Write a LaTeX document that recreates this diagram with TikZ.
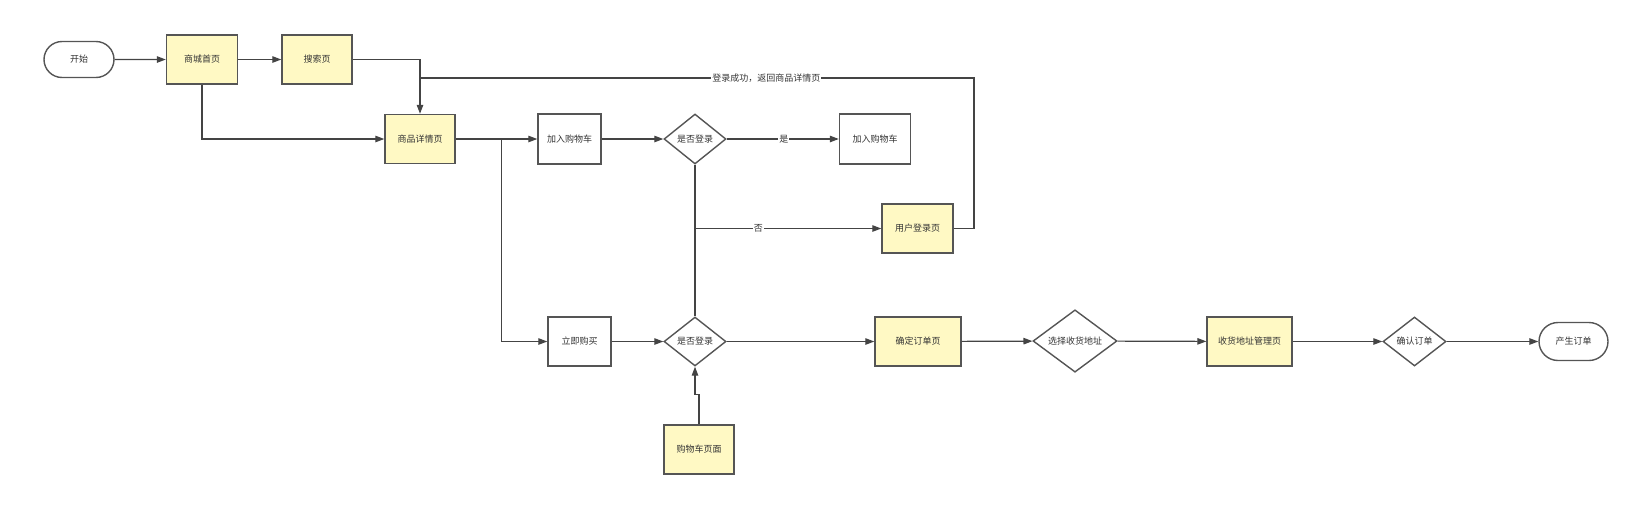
\documentclass[tikz,border=0pt]{standalone}
\usepackage{fontspec}
\setmainfont{Noto Sans CJK SC}
\usetikzlibrary{shapes.geometric,shapes.misc,arrows.meta}
\definecolor{boxfill}{HTML}{FFF9C4}
\definecolor{edge}{HTML}{555555}
\definecolor{wire}{HTML}{444444}
\definecolor{txt}{HTML}{333333}
\begin{document}
\begin{tikzpicture}[x=1pt,y=-1pt,
  every node/.style={font=\fontsize{9}{10}\selectfont, text=txt},
  base/.style={draw=edge, line width=1.4pt, inner sep=0pt},
  ybox/.style={base, rectangle, fill=boxfill, minimum width=71pt, minimum height=49pt},
  wbox/.style={base, rectangle, fill=white, minimum width=63pt, minimum height=50pt},
  dia/.style={base, diamond, fill=white, minimum width=62pt, minimum height=50pt},
  term/.style={base, rounded rectangle, fill=white, minimum width=70pt, minimum height=36pt},
  wire/.style={draw=wire, line width=1.2pt},
  arr/.style={wire, -{Triangle[length=9pt,width=6.5pt]}},
  lbl/.style={fill=white, inner sep=1pt}
]
\useasboundingbox (0,0) rectangle (1634,520);

\node[term] (start) at (79,59.5) {开始};
\node[ybox] (home) at (202,59.5) {商城首页};
\node[ybox, minimum width=70pt] (search) at (317,59.5) {搜索页};
\node[ybox, minimum width=70pt] (detail) at (420,139) {商品详情页};
\node[wbox] (cart1) at (569.5,139) {加入购物车};
\node[dia] (d1) at (695,139) {是否登录};
\node[wbox, minimum width=71pt] (cart2) at (875,139) {加入购物车};
\node[ybox] (login) at (917.5,228.5) {用户登录页};
\node[wbox, minimum height=49pt] (buy) at (579.5,341.5) {立即购买};
\node[dia, minimum height=49pt] (d2) at (695,341.5) {是否登录};
\node[ybox, minimum width=70pt] (cartpage) at (699,449.5) {购物车页面};
\node[ybox, minimum width=86pt] (confirm) at (918,341.5) {确定订单页};
\node[dia, minimum width=84pt, minimum height=55pt] (d3) at (1075,341) {选择收货地址};
\node[ybox, minimum width=85pt] (addr) at (1249.5,341.5) {收货地址管理页};
\node[dia, minimum width=63pt, minimum height=49pt] (d4) at (1414.5,341.5) {确认订单};
\node[term, minimum width=69pt, minimum height=38pt] (end) at (1573.5,341.5) {产生订单};

\coordinate (br) at (501.7,139);
\coordinate (r1) at (974,78);
\coordinate (j1) at (420,78);

\draw[arr] (start) -- (home);
\draw[arr] (home) -- (search);
\draw[arr] (search.east) -| (detail.north);
\draw[arr] (home.south) |- (detail.west);
\draw[wire, line width=1.8pt] (detail.east) -- (br);
\draw[arr] (br) -- (cart1.west);
\draw[arr] (br) |- (buy.west);
\draw[arr] (cart1) -- (d1);
\draw[arr] (d1) -- node[lbl, pos=0.51] {是} (cart2);
\draw[arr] (d1.south) |- node[lbl, pos=0.67] {否} (login.west);
\draw[wire] (d2.north) -- (d2.north |- login.west);
\draw[wire] (login.east) -| (r1) -- node[lbl, pos=0.375] {登录成功，返回商品详情页} (j1);
\draw[arr] (buy) -- (d2);
\draw[arr] (d2) -- (confirm);
\draw[arr] (cartpage.north) -- ++(0,-30) -| (d2.south);
\draw[arr] (confirm) -- (d3);
\draw[arr] (d3) -- (addr);
\draw[arr] (addr) -- (d4);
\draw[arr] (d4) -- (end);
\end{tikzpicture}
\end{document}
